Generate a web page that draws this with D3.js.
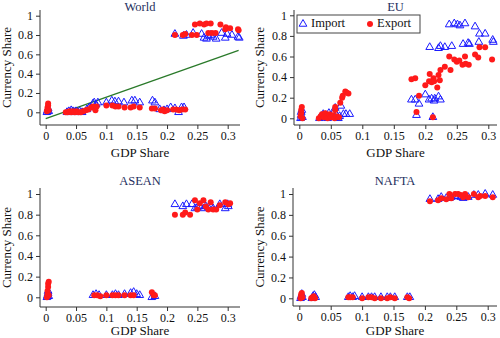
<!DOCTYPE html>
<html>
<head>
<meta charset="utf-8">
<script src="https://cdn.jsdelivr.net/npm/d3@7"></script>
<style>
  body { margin: 0; background: #fff; }
  text { font-family: "Liberation Serif", "Times New Roman", serif; }
</style>
</head>
<body>
<div id="chart"></div>
<script>
// panel titles and tick labels
const panels = ["World", "EU", "ASEAN", "NAFTA"];
const xTicks = [0, 0.05, 0.1, 0.15, 0.2, 0.25, 0.3];
const yTicks = [0, 0.2, 0.4, 0.6, 0.8, 1];
const seriesNames = ["Import", "Export"];

// [GDP share, currency share]
const worldImport = [
  [0.002,0.0],[0.003,0.02],[0.004,0.04],[0.005,0.01],
  [0.035,0.0],[0.038,0.01],[0.04,0.0],[0.042,0.02],[0.045,0.01],[0.048,0.0],[0.05,0.01],[0.053,0.0],[0.056,0.01],[0.06,0.0],
  [0.068,0.03],[0.072,0.05],[0.078,0.09],[0.08,0.1],[0.083,0.08],[0.086,0.1],
  [0.1,0.1],[0.109,0.12],[0.114,0.11],[0.12,0.11],[0.129,0.1],[0.142,0.12],[0.147,0.12],[0.155,0.1],[0.176,0.12],[0.18,0.1],
  [0.188,0.03],[0.195,0.02],[0.2,0.03],[0.206,0.05],[0.213,0.04],[0.219,0.0],[0.224,0.05],[0.228,0.05],
  [0.213,0.81],[0.227,0.79],[0.232,0.8],[0.243,0.82],[0.257,0.81],[0.261,0.77],[0.265,0.76],[0.268,0.79],[0.272,0.8],
  [0.276,0.78],[0.281,0.76],[0.29,0.82],[0.296,0.77],[0.299,0.81],[0.307,0.8],[0.317,0.78],[0.319,0.77]
];
const worldExport = [
  [0.002,0.01],[0.003,0.03],[0.003,0.05],[0.004,0.07],[0.004,0.09],[0.005,0.02],
  [0.033,0.0],[0.036,0.0],[0.039,0.01],[0.042,0.0],[0.045,0.01],[0.048,0.0],[0.051,0.01],[0.054,0.0],[0.058,0.0],[0.062,0.01],
  [0.066,0.02],[0.07,0.03],[0.075,0.05],[0.078,0.06],[0.082,0.02],[0.084,0.06],
  [0.1,0.07],[0.11,0.07],[0.115,0.06],[0.12,0.06],[0.13,0.05],[0.14,0.05],[0.145,0.06],[0.155,0.05],[0.175,0.04],[0.18,0.04],
  [0.19,0.02],[0.193,0.03],[0.196,0.01],[0.2,0.02],[0.21,0.03],[0.215,0.03],[0.22,0.02],[0.225,0.03],[0.23,0.03],
  [0.213,0.8],[0.226,0.8],[0.23,0.81],[0.241,0.8],[0.249,0.8],[0.246,0.91],[0.254,0.92],[0.261,0.91],[0.265,0.92],
  [0.272,0.92],[0.268,0.82],[0.274,0.82],[0.28,0.82],[0.288,0.91],[0.296,0.86],[0.297,0.88],[0.304,0.87],[0.317,0.86],[0.318,0.85]
];
// fitted line in the World panel (start and end)
const worldFitX = [0, 0.318];
const worldFitY = [-0.065, 0.64];

const euImport = [
  [0.002,0.0],[0.003,0.03],[0.003,0.06],[0.004,0.08],[0.005,0.01],
  [0.032,0.0],[0.035,0.02],[0.038,0.04],[0.04,0.01],[0.042,0.03],[0.045,0.0],[0.047,0.05],[0.05,0.02],[0.053,0.04],
  [0.056,0.01],[0.059,0.03],[0.062,0.0],[0.064,0.02],
  [0.057,0.1],[0.066,0.12],[0.07,0.04],[0.074,0.04],[0.08,0.04],
  [0.178,0.18],[0.184,0.18],[0.186,0.03],[0.19,0.14],[0.2,0.23],[0.206,0.18],[0.21,0.19],[0.212,0.01],[0.214,0.17],
  [0.215,0.19],[0.221,0.21],[0.224,0.18],
  [0.207,0.69],[0.221,0.68],[0.224,0.7],[0.231,0.69],[0.242,0.7],[0.238,0.91],[0.246,0.92],[0.251,0.91],[0.255,0.9],
  [0.263,0.92],[0.26,0.72],[0.268,0.73],[0.27,0.72],[0.279,0.89],[0.285,0.74],[0.286,0.82],[0.295,0.82],[0.307,0.76],[0.308,0.74]
];
const euExport = [
  [0.002,0.02],[0.003,0.05],[0.003,0.08],[0.004,0.11],[0.005,0.0],
  [0.031,0.0],[0.034,0.02],[0.036,0.04],[0.039,0.01],[0.041,0.05],[0.043,0.02],[0.045,0.0],[0.048,0.04],[0.05,0.01],
  [0.053,0.03],[0.056,0.0],[0.059,0.02],[0.063,0.01],
  [0.057,0.08],[0.057,0.11],[0.065,0.15],[0.068,0.2],[0.069,0.22],[0.073,0.26],[0.075,0.25],[0.078,0.24],
  [0.178,0.38],[0.184,0.39],[0.186,0.06],[0.19,0.22],[0.2,0.32],[0.206,0.36],[0.207,0.43],[0.21,0.35],[0.212,0.01],
  [0.213,0.39],[0.214,0.36],[0.219,0.3],[0.221,0.42],[0.223,0.37],[0.224,0.47],[0.231,0.5],[0.238,0.6],[0.24,0.47],
  [0.246,0.57],[0.25,0.55],[0.254,0.56],[0.259,0.52],[0.263,0.6],[0.264,0.53],[0.269,0.52],[0.279,0.62],[0.284,0.59],
  [0.286,0.69],[0.295,0.69],[0.306,0.57]
];

const aseanImport = [
  [0.002,0.0],[0.003,0.02],[0.004,0.04],[0.004,0.06],[0.005,0.01],
  [0.078,0.02],[0.083,0.03],[0.088,0.02],[0.1,0.02],[0.11,0.02],[0.115,0.03],[0.12,0.02],[0.13,0.03],[0.14,0.04],
  [0.145,0.05],[0.15,0.03],[0.155,0.02],[0.175,0.0],[0.18,0.01],
  [0.213,0.9],[0.226,0.88],[0.232,0.9],[0.241,0.9],[0.246,0.86],[0.25,0.87],[0.254,0.88],[0.26,0.86],[0.264,0.88],
  [0.268,0.87],[0.272,0.88],[0.276,0.86],[0.287,0.9],[0.296,0.86],[0.3,0.9],[0.301,0.88]
];
const aseanExport = [
  [0.002,0.0],[0.003,0.03],[0.003,0.06],[0.004,0.1],[0.004,0.13],[0.005,0.15],[0.005,0.02],
  [0.08,0.02],[0.085,0.02],[0.09,0.01],[0.1,0.02],[0.11,0.02],[0.115,0.02],[0.12,0.02],[0.13,0.02],[0.14,0.02],
  [0.145,0.02],[0.175,0.05],[0.178,0.02],[0.18,0.02],
  [0.213,0.8],[0.226,0.8],[0.23,0.82],[0.238,0.8],[0.246,0.94],[0.25,0.85],[0.254,0.91],[0.26,0.94],[0.264,0.88],
  [0.268,0.85],[0.272,0.92],[0.276,0.85],[0.281,0.85],[0.287,0.89],[0.296,0.92],[0.301,0.9],[0.304,0.91]
];

const naftaImport = [
  [0.002,0.0],[0.003,0.02],[0.004,0.04],[0.005,0.01],[0.02,0.0],[0.022,0.02],[0.024,0.03],[0.026,0.01],
  [0.078,0.01],[0.081,0.02],[0.085,0.01],[0.088,0.02],[0.1,0.01],[0.11,0.01],[0.115,0.01],[0.12,0.01],[0.13,0.01],
  [0.14,0.01],[0.145,0.01],[0.152,0.01],[0.172,0.01],[0.176,0.01],
  [0.208,0.95],[0.221,0.95],[0.226,0.97],[0.234,0.96],[0.239,0.96],[0.242,0.97],[0.248,0.98],[0.253,0.98],[0.257,0.97],
  [0.261,0.96],[0.264,0.97],[0.269,0.97],[0.278,0.99],[0.285,0.99],[0.296,1.0],[0.308,0.99]
];
const naftaExport = [
  [0.002,0.0],[0.003,0.02],[0.003,0.04],[0.004,0.05],[0.005,0.01],[0.019,0.0],[0.021,0.01],[0.023,0.02],[0.025,0.0],
  [0.078,0.01],[0.081,0.01],[0.085,0.01],[0.1,0.0],[0.11,0.01],[0.115,0.01],[0.12,0.0],[0.13,0.0],
  [0.14,0.0],[0.145,0.01],[0.152,0.0],[0.172,0.01],[0.175,0.0],
  [0.208,0.93],[0.221,0.94],[0.226,0.96],[0.234,0.95],[0.239,1.0],[0.242,0.96],[0.248,1.0],[0.253,1.0],[0.257,0.99],
  [0.261,0.97],[0.264,1.0],[0.269,0.97],[0.278,1.0],[0.285,0.97],[0.288,0.98],[0.296,0.98],[0.308,0.97]
];

const panelData = {
  World: { imp: worldImport, exp: worldExport },
  EU: { imp: euImport, exp: euExport },
  ASEAN: { imp: aseanImport, exp: aseanExport },
  NAFTA: { imp: naftaImport, exp: naftaExport }
};

// pixel layout of each panel: axis spines, where 0 and 0.3 / 0 and 1 fall
const layout = {
  World: { sx: 40, sy: 125, x0: 45.7, x3: 227.7, xEnd: 240, y0: 112.3, y1: 15.7, yTop: 10, title: 8, xlab: 154, ylab: 8 },
  EU:    { sx: 294, sy: 125, x0: 299.3, x3: 488.3, xEnd: 497, y0: 118.3, y1: 15.3, yTop: 10, title: 8, xlab: 154, ylab: 261 },
  ASEAN: { sx: 40, sy: 307, x0: 45.7, x3: 227.7, xEnd: 240, y0: 297.3, y1: 194, yTop: 188, title: 182, xlab: 332, ylab: 8 },
  NAFTA: { sx: 293, sy: 306, x0: 299.3, x3: 487.7, xEnd: 497, y0: 298.3, y1: 194, yTop: 188, title: 182, xlab: 332, ylab: 261 }
};

const width = 500, height = 338;
const axisColor = "#333";
const blue = "#1a1aff", red = "#ff1a1a";

const svg = d3.select("#chart").append("svg")
  .attr("width", width)
  .attr("height", height);

const tri = d3.symbol().type(d3.symbolTriangle).size(26);

panels.forEach(name => {
  const L = layout[name];
  const D = panelData[name];
  const x = d3.scaleLinear().domain([0, 0.3]).range([L.x0, L.x3]);
  const y = d3.scaleLinear().domain([0, 1]).range([L.y0, L.y1]);
  const g = svg.append("g");

  // x axis
  const xa = g.append("g").attr("transform", `translate(0,${L.sy})`)
    .call(d3.axisBottom(x).tickValues(xTicks).tickSize(4).tickPadding(2).tickFormat(d => d === 0 ? "0" : String(d)));
  xa.select(".domain").attr("d", `M${L.sx},0H${L.xEnd}`);
  // y axis
  const ya = g.append("g").attr("transform", `translate(${L.sx},0)`)
    .call(d3.axisLeft(y).tickValues(yTicks).tickSize(4).tickPadding(3).tickFormat(d => d === 0 ? "0" : String(d)));
  ya.select(".domain").attr("d", `M0,${L.yTop}V${L.sy}`);
  g.selectAll(".domain, .tick line").attr("stroke", axisColor);
  g.selectAll(".tick text").attr("fill", "#111")
    .style("font-family", "Liberation Serif").style("font-size", "12px");

  // titles
  g.append("text").attr("x", (L.sx + L.xEnd) / 2).attr("y", L.title)
    .attr("text-anchor", "middle").attr("dominant-baseline", "middle")
    .attr("fill", "#1e2f5e").style("font-size", "12.5px").text(name);
  g.append("text").attr("x", (L.sx + L.xEnd) / 2).attr("y", L.xlab)
    .attr("text-anchor", "middle").attr("dominant-baseline", "middle")
    .attr("fill", "#111").style("font-size", "13px").text("GDP Share");
  g.append("text")
    .attr("transform", `translate(${L.ylab},${(L.yTop + L.sy) / 2}) rotate(-90)`)
    .attr("text-anchor", "middle").attr("dominant-baseline", "middle")
    .attr("fill", "#111").style("font-size", "13px").text("Currency Share");

  // fitted line
  if (name === "World") {
    g.append("line")
      .attr("x1", x(worldFitX[0])).attr("y1", y(worldFitY[0]))
      .attr("x2", x(worldFitX[1])).attr("y2", y(worldFitY[1]))
      .attr("stroke", "#2a7a2a").attr("stroke-width", 1.3);
  }

  g.selectAll(".imp").data(D.imp).join("path")
    .attr("class", "imp")
    .attr("d", tri)
    .attr("transform", d => `translate(${x(d[0])},${y(d[1])})`)
    .attr("fill", "none").attr("stroke", blue).attr("stroke-width", 1);

  g.selectAll(".exp").data(D.exp).join("circle")
    .attr("class", "exp")
    .attr("cx", d => x(d[0])).attr("cy", d => y(d[1]))
    .attr("r", 3).attr("fill", red);

  // legend (EU panel only)
  if (name === "EU") {
    const lg = g.append("g");
    lg.append("rect").attr("x", 297).attr("y", 15).attr("width", 123).attr("height", 18)
      .attr("fill", "#fff").attr("stroke", "#444").attr("stroke-width", 1);
    lg.append("path").attr("d", tri).attr("transform", "translate(303,24)")
      .attr("fill", "none").attr("stroke", blue);
    lg.append("text").attr("x", 311).attr("y", 24.5).attr("dominant-baseline", "middle")
      .style("font-size", "12.5px").attr("fill", "#111").text(seriesNames[0]);
    lg.append("circle").attr("cx", 370).attr("cy", 24).attr("r", 3).attr("fill", red);
    lg.append("text").attr("x", 377).attr("y", 24.5).attr("dominant-baseline", "middle")
      .style("font-size", "12.5px").attr("fill", "#111").text(seriesNames[1]);
  }
});
</script>
</body>
</html>
